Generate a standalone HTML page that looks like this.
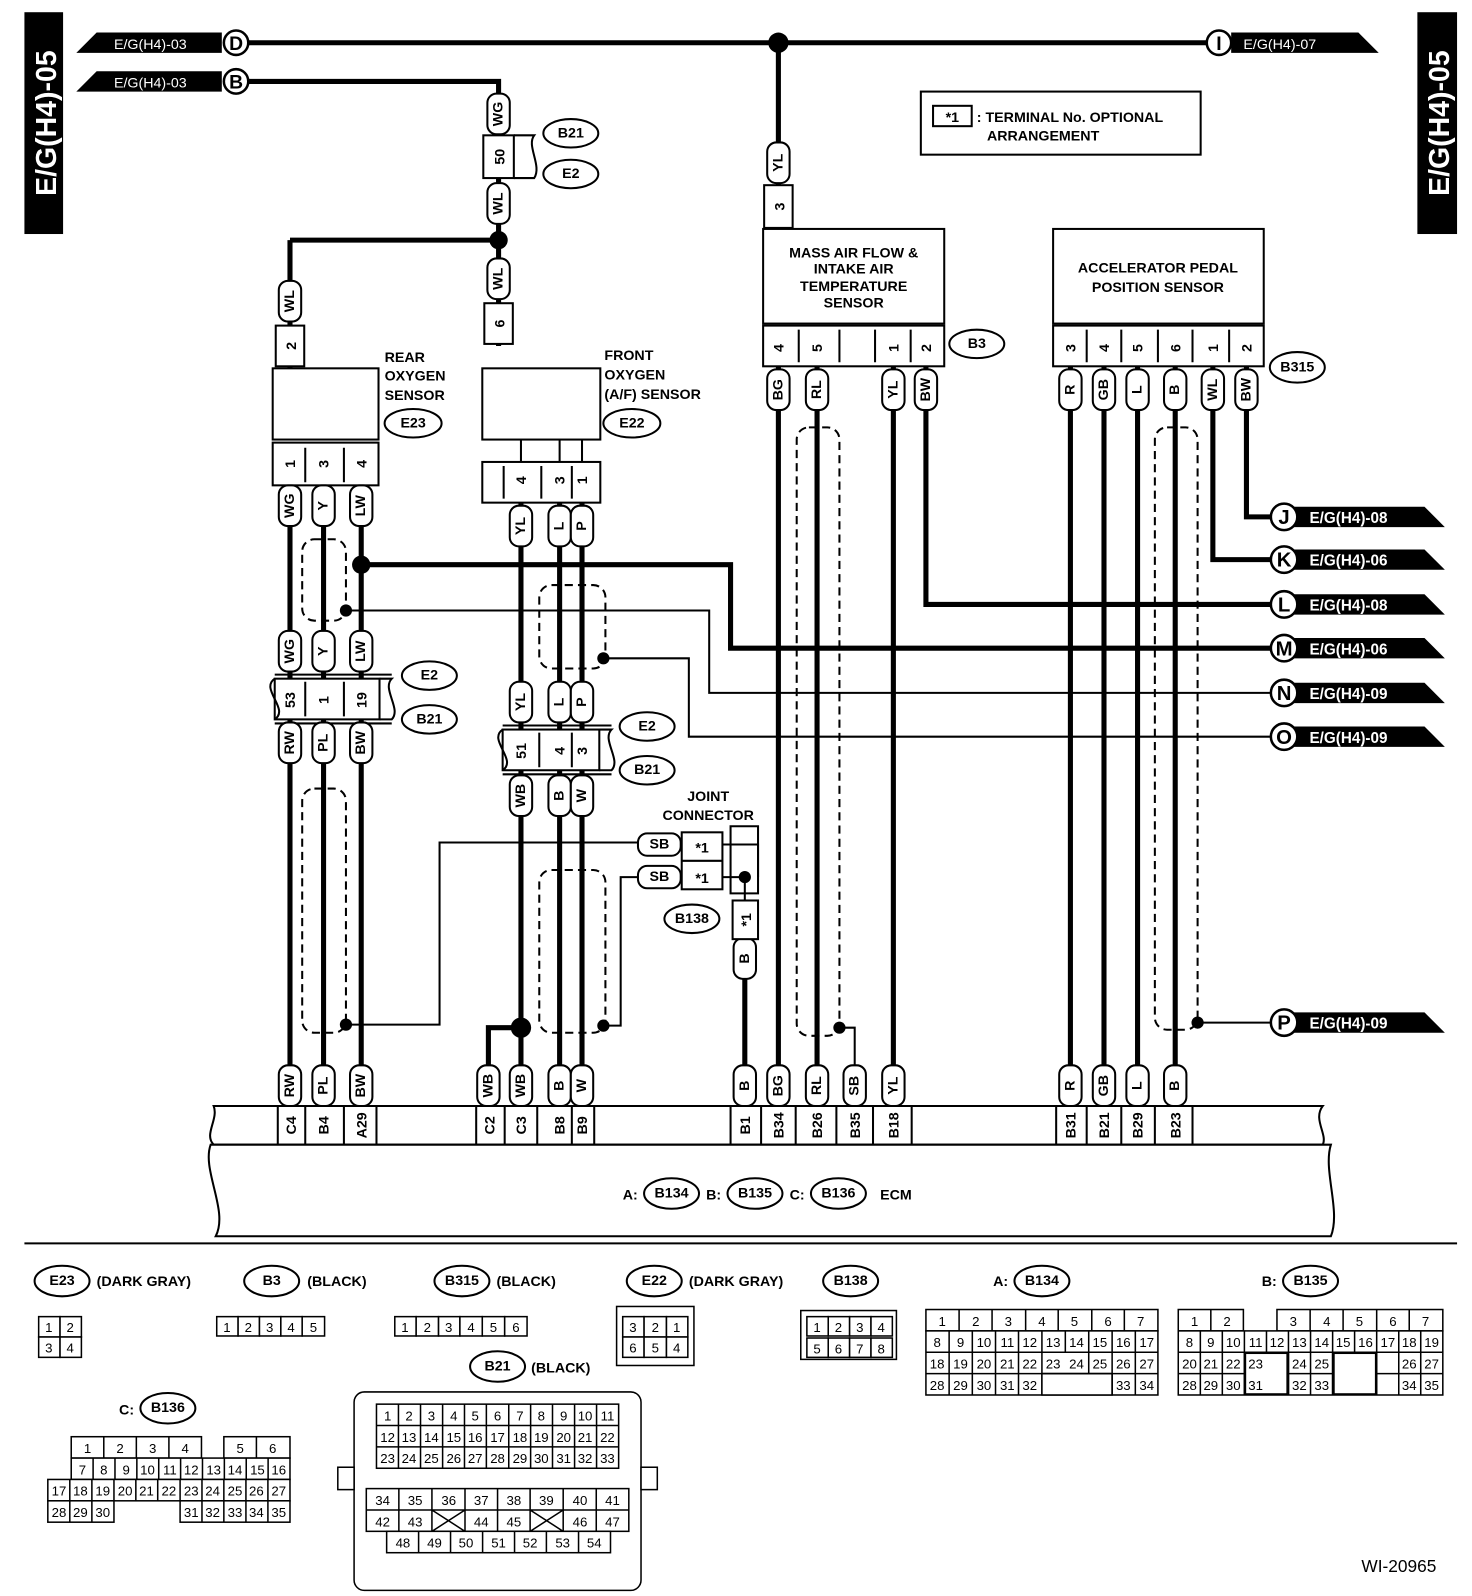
<!DOCTYPE html>
<html><head><meta charset="utf-8"><style>
html,body{margin:0;padding:0;background:#fff}
svg{display:block}
text{font-family:"Liberation Sans",sans-serif;font-weight:bold;fill:#000}
.w{fill:none;stroke:#000;stroke-width:5}
.t{fill:none;stroke:#000;stroke-width:2}
.d{fill:none;stroke:#000;stroke-width:2;stroke-dasharray:8,5}
.lb rect{fill:#fff;stroke:#000;stroke-width:2}
.lb text{font-size:14px;text-anchor:middle;dominant-baseline:central}
.pn rect{fill:#fff;stroke:#000;stroke-width:2}
.c rect{fill:#fff;stroke:#000;stroke-width:1.5}
.c text{font-size:13px;font-weight:normal;text-anchor:middle}
.ov ellipse{fill:#fff;stroke:#000;stroke-width:2}
.ov text{font-size:14px;text-anchor:middle;dominant-baseline:central}
.s{font-size:14px}
</style></head><body>
<svg width="1472" height="1596" viewBox="0 0 1472 1596" xmlns="http://www.w3.org/2000/svg">
<g transform="scale(1.0175)">
<!-- side tabs -->
<rect x="24" y="12" width="38" height="218" fill="#000"/>
<text transform="translate(55,121) rotate(-90)" text-anchor="middle" style="font-size:28px;fill:#fff">E/G(H4)-05</text>
<rect x="1393" y="12" width="39" height="218" fill="#000"/>
<text transform="translate(1424,121) rotate(-90)" text-anchor="middle" style="font-size:28px;fill:#fff">E/G(H4)-05</text>

<!-- top arrows -->
<polygon points="75,52 95,32 218,32 218,52" fill="#000"/>
<text x="112" y="48" class="s" style="fill:#fff;font-weight:normal">E/G(H4)-03</text>
<polygon points="75,90 95,70 218,70 218,90" fill="#000"/>
<text x="112" y="86" class="s" style="fill:#fff;font-weight:normal">E/G(H4)-03</text>
<polygon points="1210,32 1335,32 1355,52 1210,52" fill="#000"/>
<text x="1222" y="48" class="s" style="fill:#fff;font-weight:normal">E/G(H4)-07</text>
<g fill="#fff" stroke="#000" stroke-width="2.5">
<circle cx="232" cy="42" r="12"/><circle cx="232" cy="80" r="12"/><circle cx="1198" cy="42" r="12"/>
</g>
<text x="232" y="49" text-anchor="middle" style="font-size:19px">D</text>
<text x="232" y="87" text-anchor="middle" style="font-size:19px">B</text>
<text x="1198" y="49" text-anchor="middle" style="font-size:19px">I</text>
<path class="w" d="M244 42H1186 M244 80H490V340 M765 42V225 M285 236H490 M285 236V362"/>
<circle cx="765" cy="42" r="10"/><circle cx="490" cy="236" r="9"/>

<!-- note box -->
<rect x="905" y="90" width="275" height="62" fill="#fff" stroke="#000" stroke-width="2"/>
<rect x="917" y="104" width="38" height="20" fill="#fff" stroke="#000" stroke-width="2"/>
<text x="936" y="120" text-anchor="middle" class="s">*1</text>
<text x="960" y="120" class="s">: TERMINAL No. OPTIONAL</text>
<text x="970" y="138" class="s">ARRANGEMENT</text>

<!-- connectors B21/E2 top -->
<rect x="475" y="133" width="30" height="42" fill="#fff" stroke="#000" stroke-width="2"/>
<path class="t" d="M505 133h20c-8 10 8 30 0 42h-20"/>
<text transform="translate(496,154) rotate(-90)" text-anchor="middle" class="s">50</text>
<g class="ov"><ellipse cx="561" cy="131" rx="27" ry="14"/><text x="561" y="131">B21</text>
<ellipse cx="561" cy="171" rx="27" ry="14"/><text x="561" y="171">E2</text></g>

<!-- wire labels (vertical) -->
<g class="lb">
<g transform="translate(490,112)"><rect x="-11" y="-20" width="22" height="40" rx="9"/><text transform="rotate(-90)">WG</text></g>
<g transform="translate(490,200)"><rect x="-11" y="-20" width="22" height="40" rx="9"/><text transform="rotate(-90)">WL</text></g>
<g transform="translate(490,274)"><rect x="-11" y="-20" width="22" height="40" rx="9"/><text transform="rotate(-90)">WL</text></g>
<g transform="translate(285,296)"><rect x="-11" y="-20" width="22" height="40" rx="9"/><text transform="rotate(-90)">WL</text></g>
<g transform="translate(765,160)"><rect x="-11" y="-20" width="22" height="40" rx="9"/><text transform="rotate(-90)">YL</text></g>
</g>
<g class="pn">
<rect x="476" y="298" width="28" height="40"/><text transform="translate(496,318) rotate(-90)" text-anchor="middle" class="s">6</text>
<rect x="271" y="320" width="28" height="40"/><text transform="translate(291,340) rotate(-90)" text-anchor="middle" class="s">2</text>
<rect x="751" y="182" width="28" height="42"/><text transform="translate(771,203) rotate(-90)" text-anchor="middle" class="s">3</text>
</g>

<!-- sensor boxes -->
<rect x="268" y="362" width="104" height="70" fill="#fff" stroke="#000" stroke-width="2"/>
<text x="378" y="356" class="s">REAR</text><text x="378" y="374" class="s">OXYGEN</text><text x="378" y="393" class="s">SENSOR</text>
<g class="ov"><ellipse cx="406" cy="416" rx="28" ry="14"/><text x="406" y="416">E23</text></g>
<rect x="474" y="362" width="116" height="70" fill="#fff" stroke="#000" stroke-width="2"/>
<text x="594" y="354" class="s">FRONT</text><text x="594" y="373" class="s">OXYGEN</text><text x="594" y="392" class="s">(A/F) SENSOR</text>
<g class="ov"><ellipse cx="621" cy="416" rx="28" ry="14"/><text x="621" y="416">E22</text></g>
<path class="t" d="M512 432v22 M550 432v22 M572 432v22"/>

<rect x="750" y="225" width="178" height="93" fill="#fff" stroke="#000" stroke-width="2"/>
<text x="839" y="253" text-anchor="middle" class="s">MASS AIR FLOW &amp;</text>
<text x="839" y="269" text-anchor="middle" class="s">INTAKE AIR</text>
<text x="839" y="286" text-anchor="middle" class="s">TEMPERATURE</text>
<text x="839" y="302" text-anchor="middle" class="s">SENSOR</text>
<rect x="1035" y="225" width="207" height="93" fill="#fff" stroke="#000" stroke-width="2"/>
<text x="1138" y="268" text-anchor="middle" class="s">ACCELERATOR PEDAL</text>
<text x="1138" y="287" text-anchor="middle" class="s">POSITION SENSOR</text>

<!-- pin connectors -->
<g class="pn">
<rect x="268" y="435" width="104" height="42"/>
<rect x="474" y="454" width="116" height="40"/>
<rect x="750" y="320" width="178" height="40"/>
<rect x="1035" y="320" width="207" height="40"/>
</g>
<path class="t" d="M300 440v34 M338 440v34 M495 458v32 M532 458v32 M562 458v32 M785 324v32 M825 324v32 M860 324v32 M895 324v32 M1068 324v32 M1102 324v32 M1138 324v32 M1172 324v32 M1208 324v32"/>
<g class="s" text-anchor="middle">
<text transform="translate(290,456) rotate(-90)">1</text><text transform="translate(323,456) rotate(-90)">3</text><text transform="translate(360,456) rotate(-90)">4</text>
<text transform="translate(517,472) rotate(-90)">4</text><text transform="translate(555,472) rotate(-90)">3</text><text transform="translate(577,472) rotate(-90)">1</text>
<text transform="translate(770,342) rotate(-90)">4</text><text transform="translate(808,342) rotate(-90)">5</text><text transform="translate(883,342) rotate(-90)">1</text><text transform="translate(915,342) rotate(-90)">2</text>
<text transform="translate(1057,342) rotate(-90)">3</text><text transform="translate(1090,342) rotate(-90)">4</text><text transform="translate(1123,342) rotate(-90)">5</text><text transform="translate(1160,342) rotate(-90)">6</text><text transform="translate(1197,342) rotate(-90)">1</text><text transform="translate(1230,342) rotate(-90)">2</text>
</g>
<g class="ov"><ellipse cx="960" cy="338" rx="27" ry="14"/><text x="960" y="338">B3</text>
<ellipse cx="1275" cy="361" rx="27" ry="15"/><text x="1275" y="361">B315</text></g>

<!-- main wires -->
<path class="w" d="M285 478V1087 M318 478V1087 M355 478V1087 M512 494V1087 M550 494V1087 M572 494V1087 M480 1087V1010H512
M765 360V1087 M803 360V1087 M878 360V1087 M910 360V594H1250 M732 925V1087
M1052 360V1087 M1085 360V1087 M1118 360V1087 M1155 360V1087 M1192 360V550H1250 M1225 360V508H1250
M355 555H718V637H1250"/>
<circle cx="355" cy="555" r="9"/><circle cx="512" cy="1010" r="10"/>
<path class="t" d="M340 600H697V681H1250 M593 647H677V724H1250 M1177 1005H1250 M825 1010H840V1087
M340 1007H432V828H628 M593 1008H610V862H628 M710 830H745V862 M710 862H732 M732 862V885"/>
<circle cx="340" cy="600" r="6"/><circle cx="593" cy="647" r="6"/><circle cx="340" cy="1007" r="6"/><circle cx="593" cy="1008" r="6"/><circle cx="825" cy="1010" r="6"/><circle cx="1177" cy="1005" r="6"/><circle cx="732" cy="862" r="6"/>
<!-- shields -->
<g class="d">
<rect x="297" y="530" width="43" height="80" rx="12"/>
<rect x="297" y="775" width="43" height="240" rx="12"/>
<rect x="530" y="575" width="65" height="82" rx="12"/>
<rect x="530" y="855" width="65" height="160" rx="12"/>
<rect x="783" y="420" width="42" height="598" rx="12"/>
<rect x="1135" y="420" width="42" height="592" rx="12"/>
</g>

<!-- mid connectors E2/B21 -->
<g class="pn"><rect x="270" y="667" width="103" height="40"/><rect x="494" y="717" width="95" height="40"/></g>
<path class="t" d="M270 667c-15 10 15 30 0 40 M373 667h12c-10 10 10 30 0 40h-12 M270 663H385 M270 711H385 M494 717c-15 10 15 30 0 40 M589 717h12c-10 10 10 30 0 40h-12 M494 713H601 M494 761H601 M300 670v34 M338 670v34 M530 720v34 M562 720v34"/>
<g class="s" text-anchor="middle">
<text transform="translate(290,688) rotate(-90)">53</text><text transform="translate(323,688) rotate(-90)">1</text><text transform="translate(360,688) rotate(-90)">19</text>
<text transform="translate(517,738) rotate(-90)">51</text><text transform="translate(555,738) rotate(-90)">4</text><text transform="translate(577,738) rotate(-90)">3</text>
</g>
<g class="ov"><ellipse cx="422" cy="664" rx="27" ry="14"/><text x="422" y="664">E2</text><ellipse cx="422" cy="707" rx="27" ry="14"/><text x="422" y="707">B21</text>
<ellipse cx="636" cy="714" rx="27" ry="14"/><text x="636" y="714">E2</text><ellipse cx="636" cy="757" rx="27" ry="14"/><text x="636" y="757">B21</text>
<ellipse cx="680" cy="903" rx="27" ry="14"/><text x="680" y="903">B138</text></g>

<!-- many wire labels -->
<g class="lb">
<g transform="translate(285,497)"><rect x="-11" y="-20" width="22" height="40" rx="9"/><text transform="rotate(-90)">WG</text></g>
<g transform="translate(318,497)"><rect x="-11" y="-20" width="22" height="40" rx="9"/><text transform="rotate(-90)">Y</text></g>
<g transform="translate(355,497)"><rect x="-11" y="-20" width="22" height="40" rx="9"/><text transform="rotate(-90)">LW</text></g>
<g transform="translate(285,640)"><rect x="-11" y="-20" width="22" height="40" rx="9"/><text transform="rotate(-90)">WG</text></g>
<g transform="translate(318,640)"><rect x="-11" y="-20" width="22" height="40" rx="9"/><text transform="rotate(-90)">Y</text></g>
<g transform="translate(355,640)"><rect x="-11" y="-20" width="22" height="40" rx="9"/><text transform="rotate(-90)">LW</text></g>
<g transform="translate(285,730)"><rect x="-11" y="-20" width="22" height="40" rx="9"/><text transform="rotate(-90)">RW</text></g>
<g transform="translate(318,730)"><rect x="-11" y="-20" width="22" height="40" rx="9"/><text transform="rotate(-90)">PL</text></g>
<g transform="translate(355,730)"><rect x="-11" y="-20" width="22" height="40" rx="9"/><text transform="rotate(-90)">BW</text></g>
<g transform="translate(512,517)"><rect x="-11" y="-20" width="22" height="40" rx="9"/><text transform="rotate(-90)">YL</text></g>
<g transform="translate(550,517)"><rect x="-11" y="-20" width="22" height="40" rx="9"/><text transform="rotate(-90)">L</text></g>
<g transform="translate(572,517)"><rect x="-11" y="-20" width="22" height="40" rx="9"/><text transform="rotate(-90)">P</text></g>
<g transform="translate(512,690)"><rect x="-11" y="-20" width="22" height="40" rx="9"/><text transform="rotate(-90)">YL</text></g>
<g transform="translate(550,690)"><rect x="-11" y="-20" width="22" height="40" rx="9"/><text transform="rotate(-90)">L</text></g>
<g transform="translate(572,690)"><rect x="-11" y="-20" width="22" height="40" rx="9"/><text transform="rotate(-90)">P</text></g>
<g transform="translate(512,782)"><rect x="-11" y="-20" width="22" height="40" rx="9"/><text transform="rotate(-90)">WB</text></g>
<g transform="translate(550,782)"><rect x="-11" y="-20" width="22" height="40" rx="9"/><text transform="rotate(-90)">B</text></g>
<g transform="translate(572,782)"><rect x="-11" y="-20" width="22" height="40" rx="9"/><text transform="rotate(-90)">W</text></g>
<g transform="translate(765,383)"><rect x="-11" y="-20" width="22" height="40" rx="9"/><text transform="rotate(-90)">BG</text></g>
<g transform="translate(803,383)"><rect x="-11" y="-20" width="22" height="40" rx="9"/><text transform="rotate(-90)">RL</text></g>
<g transform="translate(878,383)"><rect x="-11" y="-20" width="22" height="40" rx="9"/><text transform="rotate(-90)">YL</text></g>
<g transform="translate(910,383)"><rect x="-11" y="-20" width="22" height="40" rx="9"/><text transform="rotate(-90)">BW</text></g>
<g transform="translate(1052,383)"><rect x="-11" y="-20" width="22" height="40" rx="9"/><text transform="rotate(-90)">R</text></g>
<g transform="translate(1085,383)"><rect x="-11" y="-20" width="22" height="40" rx="9"/><text transform="rotate(-90)">GB</text></g>
<g transform="translate(1118,383)"><rect x="-11" y="-20" width="22" height="40" rx="9"/><text transform="rotate(-90)">L</text></g>
<g transform="translate(1155,383)"><rect x="-11" y="-20" width="22" height="40" rx="9"/><text transform="rotate(-90)">B</text></g>
<g transform="translate(1192,383)"><rect x="-11" y="-20" width="22" height="40" rx="9"/><text transform="rotate(-90)">WL</text></g>
<g transform="translate(1225,383)"><rect x="-11" y="-20" width="22" height="40" rx="9"/><text transform="rotate(-90)">BW</text></g>
<g transform="translate(732,942)"><rect x="-11" y="-20" width="22" height="40" rx="9"/><text transform="rotate(-90)">B</text></g>
<!-- bottom -->
<g transform="translate(285,1067)"><rect x="-11" y="-20" width="22" height="40" rx="9"/><text transform="rotate(-90)">RW</text></g>
<g transform="translate(318,1067)"><rect x="-11" y="-20" width="22" height="40" rx="9"/><text transform="rotate(-90)">PL</text></g>
<g transform="translate(355,1067)"><rect x="-11" y="-20" width="22" height="40" rx="9"/><text transform="rotate(-90)">BW</text></g>
<g transform="translate(480,1067)"><rect x="-11" y="-20" width="22" height="40" rx="9"/><text transform="rotate(-90)">WB</text></g>
<g transform="translate(512,1067)"><rect x="-11" y="-20" width="22" height="40" rx="9"/><text transform="rotate(-90)">WB</text></g>
<g transform="translate(550,1067)"><rect x="-11" y="-20" width="22" height="40" rx="9"/><text transform="rotate(-90)">B</text></g>
<g transform="translate(572,1067)"><rect x="-11" y="-20" width="22" height="40" rx="9"/><text transform="rotate(-90)">W</text></g>
<g transform="translate(732,1067)"><rect x="-11" y="-20" width="22" height="40" rx="9"/><text transform="rotate(-90)">B</text></g>
<g transform="translate(765,1067)"><rect x="-11" y="-20" width="22" height="40" rx="9"/><text transform="rotate(-90)">BG</text></g>
<g transform="translate(803,1067)"><rect x="-11" y="-20" width="22" height="40" rx="9"/><text transform="rotate(-90)">RL</text></g>
<g transform="translate(840,1067)"><rect x="-11" y="-20" width="22" height="40" rx="9"/><text transform="rotate(-90)">SB</text></g>
<g transform="translate(878,1067)"><rect x="-11" y="-20" width="22" height="40" rx="9"/><text transform="rotate(-90)">YL</text></g>
<g transform="translate(1052,1067)"><rect x="-11" y="-20" width="22" height="40" rx="9"/><text transform="rotate(-90)">R</text></g>
<g transform="translate(1085,1067)"><rect x="-11" y="-20" width="22" height="40" rx="9"/><text transform="rotate(-90)">GB</text></g>
<g transform="translate(1118,1067)"><rect x="-11" y="-20" width="22" height="40" rx="9"/><text transform="rotate(-90)">L</text></g>
<g transform="translate(1155,1067)"><rect x="-11" y="-20" width="22" height="40" rx="9"/><text transform="rotate(-90)">B</text></g>
<!-- SB horizontal -->
<g transform="translate(648,830)"><rect x="-21" y="-11" width="42" height="22" rx="9"/><text>SB</text></g>
<g transform="translate(648,862)"><rect x="-21" y="-11" width="42" height="22" rx="9"/><text>SB</text></g>
</g>
<!-- joint connector -->
<text x="696" y="787" text-anchor="middle" class="s">JOINT</text>
<text x="696" y="806" text-anchor="middle" class="s">CONNECTOR</text>
<g class="pn"><rect x="670" y="818" width="40" height="56"/><rect x="720" y="885" width="25" height="38"/></g>
<path class="t" d="M670 846H710 M718 812V878H745V812Z"/>
<text x="690" y="838" text-anchor="middle" class="s">*1</text><text x="690" y="868" text-anchor="middle" class="s">*1</text>
<text transform="translate(738,904) rotate(-90)" text-anchor="middle" class="s">*1</text>

<!-- right side outputs -->
<g>
<polygon points="1262,498 1400,498 1420,518 1262,518" fill="#000"/>
<polygon points="1262,540 1400,540 1420,560 1262,560" fill="#000"/>
<polygon points="1262,584 1400,584 1420,604 1262,604" fill="#000"/>
<polygon points="1262,627 1400,627 1420,647 1262,647" fill="#000"/>
<polygon points="1262,671 1400,671 1420,691 1262,691" fill="#000"/>
<polygon points="1262,714 1400,714 1420,734 1262,734" fill="#000"/>
<polygon points="1262,995 1400,995 1420,1015 1262,1015" fill="#000"/>
</g>
<g fill="#fff" stroke="#000" stroke-width="2.5">
<circle cx="1262" cy="508" r="13"/><circle cx="1262" cy="550" r="13"/><circle cx="1262" cy="594" r="13"/><circle cx="1262" cy="637" r="13"/><circle cx="1262" cy="681" r="13"/><circle cx="1262" cy="724" r="13"/><circle cx="1262" cy="1005" r="13"/>
</g>
<g style="font-size:20px" text-anchor="middle">
<text x="1262" y="515">J</text><text x="1262" y="557">K</text><text x="1262" y="601">L</text><text x="1262" y="644">M</text><text x="1262" y="688">N</text><text x="1262" y="731">O</text><text x="1262" y="1012">P</text>
</g>
<g class="s" style="font-weight:normal;font-size:15px">
<text x="1287" y="514" style="fill:#fff">E/G(H4)-08</text><text x="1287" y="556" style="fill:#fff">E/G(H4)-06</text><text x="1287" y="600" style="fill:#fff">E/G(H4)-08</text><text x="1287" y="643" style="fill:#fff">E/G(H4)-06</text><text x="1287" y="687" style="fill:#fff">E/G(H4)-09</text><text x="1287" y="730" style="fill:#fff">E/G(H4)-09</text><text x="1287" y="1011" style="fill:#fff">E/G(H4)-09</text>
</g>

<!-- ECM -->
<path d="M210 1087H1300C1290 1100 1305 1115 1300 1125H210C200 1115 215 1100 210 1087Z" fill="#fff" stroke="#000" stroke-width="2"/>
<path d="M207 1125H1308C1300 1150 1318 1190 1308 1215H212C225 1190 198 1150 207 1125Z" fill="#fff" stroke="#000" stroke-width="2"/>
<path class="t" d="M273 1087v38 M300 1087v38 M338 1087v38 M370 1087v38 M468 1087v38 M496 1087v38 M528 1087v38 M562 1087v38 M584 1087v38 M718 1087v38 M748 1087v38 M782 1087v38 M822 1087v38 M858 1087v38 M896 1087v38 M1038 1087v38 M1068 1087v38 M1102 1087v38 M1135 1087v38 M1172 1087v38"/>
<g class="s" text-anchor="middle">
<text transform="translate(291,1106) rotate(-90)">C4</text><text transform="translate(323,1106) rotate(-90)">B4</text><text transform="translate(360,1106) rotate(-90)">A29</text>
<text transform="translate(486,1106) rotate(-90)">C2</text><text transform="translate(517,1106) rotate(-90)">C3</text><text transform="translate(555,1106) rotate(-90)">B8</text><text transform="translate(577,1106) rotate(-90)">B9</text>
<text transform="translate(737,1106) rotate(-90)">B1</text><text transform="translate(770,1106) rotate(-90)">B34</text><text transform="translate(808,1106) rotate(-90)">B26</text><text transform="translate(845,1106) rotate(-90)">B35</text><text transform="translate(883,1106) rotate(-90)">B18</text>
<text transform="translate(1057,1106) rotate(-90)">B31</text><text transform="translate(1090,1106) rotate(-90)">B21</text><text transform="translate(1123,1106) rotate(-90)">B29</text><text transform="translate(1160,1106) rotate(-90)">B23</text>
</g>
<text x="612" y="1179" class="s">A:</text><text x="694" y="1179" class="s">B:</text><text x="776" y="1179" class="s">C:</text><text x="865" y="1179" class="s">ECM</text>
<g class="ov"><ellipse cx="660" cy="1173" rx="27" ry="15"/><text x="660" y="1173">B134</text><ellipse cx="742" cy="1173" rx="27" ry="15"/><text x="742" y="1173">B135</text><ellipse cx="824" cy="1173" rx="27" ry="15"/><text x="824" y="1173">B136</text></g>

<line x1="24" y1="1222" x2="1432" y2="1222" stroke="#000" stroke-width="2"/>

<!-- connector legends -->
<g class="ov">
<ellipse cx="61" cy="1259" rx="27" ry="15"/><text x="61" y="1259">E23</text>
<ellipse cx="267" cy="1259" rx="27" ry="15"/><text x="267" y="1259">B3</text>
<ellipse cx="454" cy="1259" rx="27" ry="15"/><text x="454" y="1259">B315</text>
<ellipse cx="643" cy="1259" rx="27" ry="15"/><text x="643" y="1259">E22</text>
<ellipse cx="836" cy="1259" rx="27" ry="15"/><text x="836" y="1259">B138</text>
<ellipse cx="1024" cy="1259" rx="27" ry="15"/><text x="1024" y="1259">B134</text>
<ellipse cx="1288" cy="1259" rx="27" ry="15"/><text x="1288" y="1259">B135</text>
<ellipse cx="489" cy="1343" rx="27" ry="15"/><text x="489" y="1343">B21</text>
<ellipse cx="165" cy="1384" rx="27" ry="15"/><text x="165" y="1384">B136</text>
</g>
<g class="s">
<text x="95" y="1264">(DARK GRAY)</text><text x="302" y="1264">(BLACK)</text><text x="488" y="1264">(BLACK)</text><text x="677" y="1264">(DARK GRAY)</text>
<text x="976" y="1264">A:</text><text x="1240" y="1264">B:</text><text x="522" y="1349">(BLACK)</text><text x="117" y="1390">C:</text>
</g>
<g class="c">
<rect x="38" y="1294" width="21" height="20"/><rect x="59" y="1294" width="21" height="20"/><rect x="38" y="1314" width="21" height="20"/><rect x="59" y="1314" width="21" height="20"/>
<text x="48" y="1309">1</text><text x="69" y="1309">2</text><text x="48" y="1329">3</text><text x="69" y="1329">4</text>
<rect x="213" y="1294" width="21" height="19"/><rect x="234" y="1294" width="21" height="19"/><rect x="255" y="1294" width="21" height="19"/><rect x="276" y="1294" width="21" height="19"/><rect x="297" y="1294" width="22" height="19"/>
<text x="223" y="1309">1</text><text x="244" y="1309">2</text><text x="265" y="1309">3</text><text x="286" y="1309">4</text><text x="308" y="1309">5</text>
<rect x="388" y="1294" width="21" height="19"/><rect x="409" y="1294" width="22" height="19"/><rect x="431" y="1294" width="21" height="19"/><rect x="452" y="1294" width="22" height="19"/><rect x="474" y="1294" width="22" height="19"/><rect x="496" y="1294" width="22" height="19"/>
<text x="398" y="1309">1</text><text x="420" y="1309">2</text><text x="441" y="1309">3</text><text x="463" y="1309">4</text><text x="485" y="1309">5</text><text x="507" y="1309">6</text>
<rect x="606" y="1284" width="76" height="58"/>
<rect x="612" y="1294" width="21" height="20"/><rect x="633" y="1294" width="22" height="20"/><rect x="655" y="1294" width="21" height="20"/>
<rect x="612" y="1314" width="21" height="20"/><rect x="633" y="1314" width="22" height="20"/><rect x="655" y="1314" width="21" height="20"/>
<text x="622" y="1309">3</text><text x="644" y="1309">2</text><text x="665" y="1309">1</text><text x="622" y="1329">6</text><text x="644" y="1329">5</text><text x="665" y="1329">4</text>
<rect x="787" y="1288" width="94" height="48"/>
<rect x="793" y="1294" width="21" height="19"/><rect x="814" y="1294" width="21" height="19"/><rect x="835" y="1294" width="21" height="19"/><rect x="856" y="1294" width="21" height="19"/>
<rect x="793" y="1315" width="21" height="19"/><rect x="814" y="1315" width="21" height="19"/><rect x="835" y="1315" width="21" height="19"/><rect x="856" y="1315" width="21" height="19"/>
<text x="803" y="1309">1</text><text x="824" y="1309">2</text><text x="845" y="1309">3</text><text x="866" y="1309">4</text><text x="803" y="1330">5</text><text x="824" y="1330">6</text><text x="845" y="1330">7</text><text x="866" y="1330">8</text>
</g>

<!-- B134 -->
<g class="c">
<rect x="910" y="1287" width="228" height="21"/><rect x="910" y="1308" width="228" height="63"/>
<path d="M942.6 1287v21M975 1287v21M1008 1287v21M1040 1287v21M1073 1287v21M1105 1287v21 M932.8 1308v63M955.6 1308v63M978.4 1308v63M1001 1308v63M1024 1308v63M1047 1308v21M1047 1350v21M1070 1308v63M1093 1308v63M1115.8 1308v63 M910 1329H1138M910 1350H1138" fill="none" stroke="#000" stroke-width="1.5"/>
<rect x="1024" y="1350" width="69" height="21" stroke="none"/>
<path d="M1024 1350H1093M1093 1350v21" stroke="#000" stroke-width="1.5"/>
<text x="926" y="1303">1</text><text x="959" y="1303">2</text><text x="991" y="1303">3</text><text x="1024" y="1303">4</text><text x="1056" y="1303">5</text><text x="1089" y="1303">6</text><text x="1121" y="1303">7</text>
<text x="921" y="1324">8</text><text x="944" y="1324">9</text><text x="967" y="1324">10</text><text x="990" y="1324">11</text><text x="1012" y="1324">12</text><text x="1035" y="1324">13</text><text x="1058" y="1324">14</text><text x="1081" y="1324">15</text><text x="1104" y="1324">16</text><text x="1127" y="1324">17</text>
<text x="921" y="1345">18</text><text x="944" y="1345">19</text><text x="967" y="1345">20</text><text x="990" y="1345">21</text><text x="1012" y="1345">22</text><text x="1035" y="1345">23</text><text x="1058" y="1345">24</text><text x="1081" y="1345">25</text><text x="1104" y="1345">26</text><text x="1127" y="1345">27</text>
<text x="921" y="1366">28</text><text x="944" y="1366">29</text><text x="967" y="1366">30</text><text x="990" y="1366">31</text><text x="1012" y="1366">32</text><text x="1104" y="1366">33</text><text x="1127" y="1366">34</text>
</g>
<!-- B135 -->
<g class="c">
<rect x="1158" y="1287" width="64" height="21"/><rect x="1255" y="1287" width="163" height="21"/><rect x="1158" y="1308" width="260" height="63"/>
<path d="M1190 1287v21 M1287.6 1287v21M1320 1287v21M1353 1287v21M1385 1287v21 M1179.7 1308v63M1201.3 1308v63M1223 1308v63M1244.7 1308v21M1266.3 1308v63M1288 1308v63M1309.7 1308v63M1331.3 1308v21M1353 1308v63M1374.7 1308v63M1396.3 1308v63 M1158 1329H1418M1158 1350H1418" fill="none" stroke="#000" stroke-width="1.5"/>
<rect x="1224" y="1330" width="41" height="40" stroke="none"/><rect x="1311" y="1330" width="41" height="40" stroke="none"/>
<path d="M1223 1329v42M1266.3 1329v42M1309.7 1329v42M1353 1329v42" stroke="#000" stroke-width="1.5"/>
<text x="1174" y="1303">1</text><text x="1206" y="1303">2</text><text x="1271" y="1303">3</text><text x="1304" y="1303">4</text><text x="1336" y="1303">5</text><text x="1369" y="1303">6</text><text x="1401" y="1303">7</text>
<text x="1169" y="1324">8</text><text x="1190" y="1324">9</text><text x="1212" y="1324">10</text><text x="1234" y="1324">11</text><text x="1255" y="1324">12</text><text x="1277" y="1324">13</text><text x="1299" y="1324">14</text><text x="1320" y="1324">15</text><text x="1342" y="1324">16</text><text x="1364" y="1324">17</text><text x="1385" y="1324">18</text><text x="1407" y="1324">19</text>
<text x="1169" y="1345">20</text><text x="1190" y="1345">21</text><text x="1212" y="1345">22</text><text x="1234" y="1345">23</text><text x="1277" y="1345">24</text><text x="1299" y="1345">25</text><text x="1385" y="1345">26</text><text x="1407" y="1345">27</text>
<text x="1169" y="1366">28</text><text x="1190" y="1366">29</text><text x="1212" y="1366">30</text><text x="1234" y="1366">31</text><text x="1277" y="1366">32</text><text x="1299" y="1366">33</text><text x="1385" y="1366">34</text><text x="1407" y="1366">35</text>
</g>
<!-- B136 -->
<g class="c">
<rect x="70" y="1412" width="128" height="21"/><rect x="220" y="1412" width="65" height="21"/>
<rect x="70" y="1433" width="215" height="21"/><rect x="47" y="1454" width="238" height="21"/>
<rect x="47" y="1475" width="65" height="21"/><rect x="177" y="1475" width="108" height="21"/>
<path d="M102 1412v21M134 1412v21M166 1412v21M252 1412v21 M91.5 1433v21M113 1433v21M134.5 1433v21M156 1433v21M177.5 1433v21M199 1433v21M220.5 1433v21M242 1433v21M263.5 1433v21 M68.6 1454v21M90.3 1454v21M112 1454v21M133.5 1454v21M155 1454v21M177 1454v21M198.5 1454v21M220 1454v21M241.7 1454v21M263.3 1454v21 M68.6 1475v21M90.3 1475v21 M198.5 1475v21M220 1475v21M241.7 1475v21M263.3 1475v21" fill="none" stroke="#000" stroke-width="1.5"/>
<text x="86" y="1428">1</text><text x="118" y="1428">2</text><text x="150" y="1428">3</text><text x="182" y="1428">4</text><text x="236" y="1428">5</text><text x="268" y="1428">6</text>
<text x="81" y="1449">7</text><text x="102" y="1449">8</text><text x="124" y="1449">9</text><text x="145" y="1449">10</text><text x="167" y="1449">11</text><text x="188" y="1449">12</text><text x="210" y="1449">13</text><text x="231" y="1449">14</text><text x="253" y="1449">15</text><text x="274" y="1449">16</text>
<text x="58" y="1470">17</text><text x="79" y="1470">18</text><text x="101" y="1470">19</text><text x="123" y="1470">20</text><text x="144" y="1470">21</text><text x="166" y="1470">22</text><text x="188" y="1470">23</text><text x="209" y="1470">24</text><text x="231" y="1470">25</text><text x="252" y="1470">26</text><text x="274" y="1470">27</text>
<text x="58" y="1491">28</text><text x="79" y="1491">29</text><text x="101" y="1491">30</text><text x="188" y="1491">31</text><text x="209" y="1491">32</text><text x="231" y="1491">33</text><text x="252" y="1491">34</text><text x="274" y="1491">35</text>
</g>
<!-- B21 -->
<g class="c">
<rect x="348" y="1368" width="282" height="195" rx="10"/>
<rect x="332" y="1442" width="16" height="22"/><rect x="630" y="1442" width="16" height="22"/>
<rect x="370" y="1380" width="238" height="63"/>
<path d="M391.6 1380v63M413.3 1380v63M435 1380v63M456.5 1380v63M478 1380v63M500 1380v63M521.5 1380v63M543 1380v63M564.7 1380v63M586.3 1380v63 M370 1401H608M370 1422H608" fill="none" stroke="#000" stroke-width="1.5"/>
<rect x="360" y="1463" width="258" height="42"/>
<path d="M392 1463v42M424.5 1463v42M457 1463v42M489 1463v42M521 1463v42M553.5 1463v42M586 1463v42M360 1484H618 M424.5 1484l32.5 21M457 1484l-32.5 21 M521 1484l32.5 21M553.5 1484l-32.5 21" fill="none" stroke="#000" stroke-width="1.5"/>
<rect x="380" y="1505" width="220" height="21"/>
<path d="M411.4 1505v21M442.8 1505v21M474.3 1505v21M505.7 1505v21M537 1505v21M568.6 1505v21" fill="none" stroke="#000" stroke-width="1.5"/>
<text x="381" y="1396">1</text><text x="402" y="1396">2</text><text x="424" y="1396">3</text><text x="446" y="1396">4</text><text x="467" y="1396">5</text><text x="489" y="1396">6</text><text x="511" y="1396">7</text><text x="532" y="1396">8</text><text x="554" y="1396">9</text><text x="575" y="1396">10</text><text x="597" y="1396">11</text>
<text x="381" y="1417">12</text><text x="402" y="1417">13</text><text x="424" y="1417">14</text><text x="446" y="1417">15</text><text x="467" y="1417">16</text><text x="489" y="1417">17</text><text x="511" y="1417">18</text><text x="532" y="1417">19</text><text x="554" y="1417">20</text><text x="575" y="1417">21</text><text x="597" y="1417">22</text>
<text x="381" y="1438">23</text><text x="402" y="1438">24</text><text x="424" y="1438">25</text><text x="446" y="1438">26</text><text x="467" y="1438">27</text><text x="489" y="1438">28</text><text x="511" y="1438">29</text><text x="532" y="1438">30</text><text x="554" y="1438">31</text><text x="575" y="1438">32</text><text x="597" y="1438">33</text>
<text x="376" y="1479">34</text><text x="408" y="1479">35</text><text x="441" y="1479">36</text><text x="473" y="1479">37</text><text x="505" y="1479">38</text><text x="537" y="1479">39</text><text x="570" y="1479">40</text><text x="602" y="1479">41</text>
<text x="376" y="1500">42</text><text x="408" y="1500">43</text><text x="473" y="1500">44</text><text x="505" y="1500">45</text><text x="570" y="1500">46</text><text x="602" y="1500">47</text>
<text x="396" y="1521">48</text><text x="427" y="1521">49</text><text x="458" y="1521">50</text><text x="490" y="1521">51</text><text x="521" y="1521">52</text><text x="553" y="1521">53</text><text x="584" y="1521">54</text>
</g>
<text x="1338" y="1545" style="font-size:17px;font-weight:normal">WI-20965</text>
</g>
</svg>
</body></html>
